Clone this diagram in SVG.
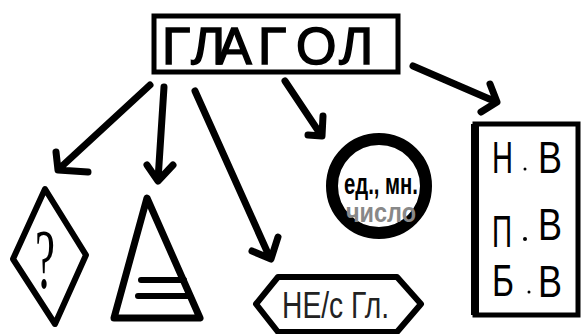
<svg xmlns="http://www.w3.org/2000/svg" width="583" height="334" viewBox="0 0 583 334">
<style>
.s{fill:none;stroke:#000;stroke-linecap:round;stroke-linejoin:round}
.t{font-family:"Liberation Sans","DejaVu Sans",sans-serif;fill:#000}
.b{font-size:44px}
.g{fill:#888}
</style>
<rect width="583" height="334" fill="#fff"/>
<g id="connectors" class="s" stroke-width="7">
  <path d="M150 85 L60 168 M56 152 L58 170 L88 172"/>
  <path d="M164 87 L158 180 M147 165 L158 181 L173 165"/>
  <path d="M195 91 L270 258 M252 251 L271 259 L278 237"/>
  <path d="M285 81 L321 135 M308 135 L322 136 L323 116"/>
  <path d="M413 66 L494 101 M481 112 L497 102 L490 84"/>
</g>
<g id="glagol">
  <rect x="154" y="16" width="244" height="56" fill="#fff" stroke="#000" stroke-width="5"/>
  <text class="t" x="162 191 217 258 296 339" y="64" font-size="52" stroke="#000" stroke-width="1.5">ГЛАГОЛ</text>
</g>
<g id="question">
  <path class="s" stroke-width="6" d="M45 189 L86 255 L55 324 L13 259 Z"/>
  <text class="t" x="45" y="288" font-size="84" text-anchor="middle" textLength="20" lengthAdjust="spacingAndGlyphs" style="font-family:'Liberation Serif',serif">?</text>
</g>
<g id="triangle">
  <path class="s" stroke-width="7" d="M147 198 L200 318 L114 318 Z"/>
  <path class="s" stroke-width="6" d="M141 280 L184 280 M138 296 L190 296"/>
</g>
<g id="negation">
  <path class="s" stroke-width="6" d="M256 304 L278 277 L397 277 L421 304 L397 332 L278 332 Z"/>
  <text class="t" x="282" y="318" font-size="36" textLength="107" lengthAdjust="spacingAndGlyphs" style="fill:#222">НЕ/с Гл.</text>
</g>
<g id="number">
  <circle cx="379" cy="186" r="47" fill="#fff" stroke="#000" stroke-width="12"/>
  <text class="t" x="344" y="194" font-size="29" textLength="74" lengthAdjust="spacingAndGlyphs" font-weight="bold">ед., мн.</text>
  <text class="t g" x="346" y="222" font-size="28" textLength="70" lengthAdjust="spacingAndGlyphs" font-weight="bold">число</text>
</g>
<g id="tenses">
  <rect x="475" y="124" width="103" height="191" fill="#fff" stroke="#000" stroke-width="5"/>
  <path d="M475 124 L475 315" stroke="#000" stroke-width="8"/>
  <text class="t b" x="492" y="173" textLength="21" lengthAdjust="spacingAndGlyphs">Н</text><circle cx="525" cy="169" r="1.5"/><text class="t b" x="538" y="173" textLength="24" lengthAdjust="spacingAndGlyphs">В</text>
  <text class="t b" x="492" y="247" textLength="20" lengthAdjust="spacingAndGlyphs">П</text><circle cx="525" cy="239" r="2"/><text class="t b" x="538" y="240" textLength="24" lengthAdjust="spacingAndGlyphs">В</text>
  <text class="t b" x="492" y="296" textLength="22" lengthAdjust="spacingAndGlyphs">Б</text><circle cx="529" cy="292" r="1.5"/><text class="t b" x="538" y="297" textLength="24" lengthAdjust="spacingAndGlyphs">В</text>
</g>
</svg>
